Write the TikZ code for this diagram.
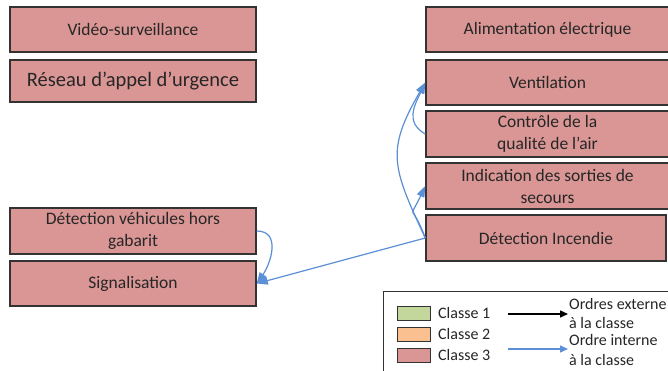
\documentclass[tikz,border=0pt]{standalone}
\usepackage{fontspec}
\setmainfont{Carlito}
\usetikzlibrary{arrows.meta}
\definecolor{boxred}{RGB}{217,150,148}
\definecolor{boxgreen}{RGB}{195,214,155}
\definecolor{boxorange}{RGB}{250,192,144}
\definecolor{edgegray}{RGB}{51,51,51}
\definecolor{linkblue}{RGB}{91,143,214}
\definecolor{inkgray}{RGB}{38,38,38}
\begin{document}
\begin{tikzpicture}[x=1pt,y=1pt,
  unit/.style={draw=edgegray, line width=1.5pt, fill=boxred, text=inkgray,
    align=center, inner sep=0pt, font=\fontsize{17.5}{22}\selectfont},
  leftunit/.style={unit, minimum width=246pt},
  rightunit/.style={unit, minimum width=243pt},
  internal/.style={draw=linkblue, line width=1.2pt,
    -{Triangle[length=11pt,width=8pt]}},
  swatch/.style={draw=edgegray, line width=1pt, minimum width=33pt,
    minimum height=14pt, inner sep=0pt},
  legendtext/.style={text=inkgray, inner sep=0pt, anchor=west, align=left,
    font=\fontsize{16}{19.5}\selectfont}]
\useasboundingbox (0,0) rectangle (668,-371);
\clip (0,0) rectangle (668,-371);
\fill[white] (0,0) rectangle (668,-371);

% left column
\node[leftunit, minimum height=45pt] (vid) at (133,-29.5) {Vidéo-surveillance};
\node[leftunit, minimum height=42pt, font=\fontsize{20.5}{24}\selectfont]
  (res) at (133,-81) {Réseau d’appel d’urgence};
\node[leftunit, minimum height=46pt] (dvh) at (133,-231)
  {Détection véhicules hors\\gabarit};
\node[leftunit, minimum height=45pt] (sig) at (133,-283.5) {Signalisation};

% right column
\node[rightunit, minimum height=45pt] (ali) at (547.5,-29.5) {Alimentation électrique};
\node[rightunit, minimum height=45pt] (ven) at (547.5,-82.5) {Ventilation};
\node[rightunit, minimum height=46pt] (qual) at (547.5,-134)
  {Contrôle de la\\qualité de l’air};
\node[rightunit, minimum height=46pt] (ind) at (547.5,-186)
  {Indication des sorties de\\secours};
\node[unit, minimum width=240pt, minimum height=46pt] (inc) at (546,-238)
  {Détection Incendie};

% internal orders
\draw[internal] (inc.west) -- (sig.east);
\draw[internal] (inc.west) to[out=115,in=240,looseness=1.3] (ven.west);
\draw[internal] (inc.west) to[out=110,in=245,looseness=2] (ind.west);
\draw[internal] (qual.west) to[out=150,in=245,looseness=1.2] (ven.west);
\draw[internal] (dvh.east) to[out=0,in=55,looseness=1.2] (sig.east);

% legend
\draw[edgegray, line width=1pt] (383,-291) rectangle (720,-400);
\node[swatch, fill=boxgreen] (k1) at (413.5,-313.5) {};
\node[swatch, fill=boxorange] (k2) at (413.5,-334) {};
\node[swatch, fill=boxred] (k3) at (413.5,-355) {};
\node[legendtext] (k1l) at (438,-313.5) {Classe 1};
\node[legendtext] (k2l) at (438,-334) {Classe 2};
\node[legendtext] (k3l) at (438,-355) {Classe 3};
\coordinate (ext0) at (508,-314);
\coordinate (ext1) at (568,-314);
\coordinate (int0) at (508,-349);
\coordinate (int1) at (568,-349);
\draw[black, line width=1.4pt, -{Triangle[length=8pt,width=7pt]}] (ext0) -- (ext1);
\draw[linkblue, line width=1.2pt, -{Triangle[length=8pt,width=7pt]}] (int0) -- (int1);
\node[legendtext] (extl) at (569,-313.5) {Ordres externe\\à la classe};
\node[legendtext] (intl) at (569,-350) {Ordre interne\\à la classe};
\end{tikzpicture}
\end{document}
